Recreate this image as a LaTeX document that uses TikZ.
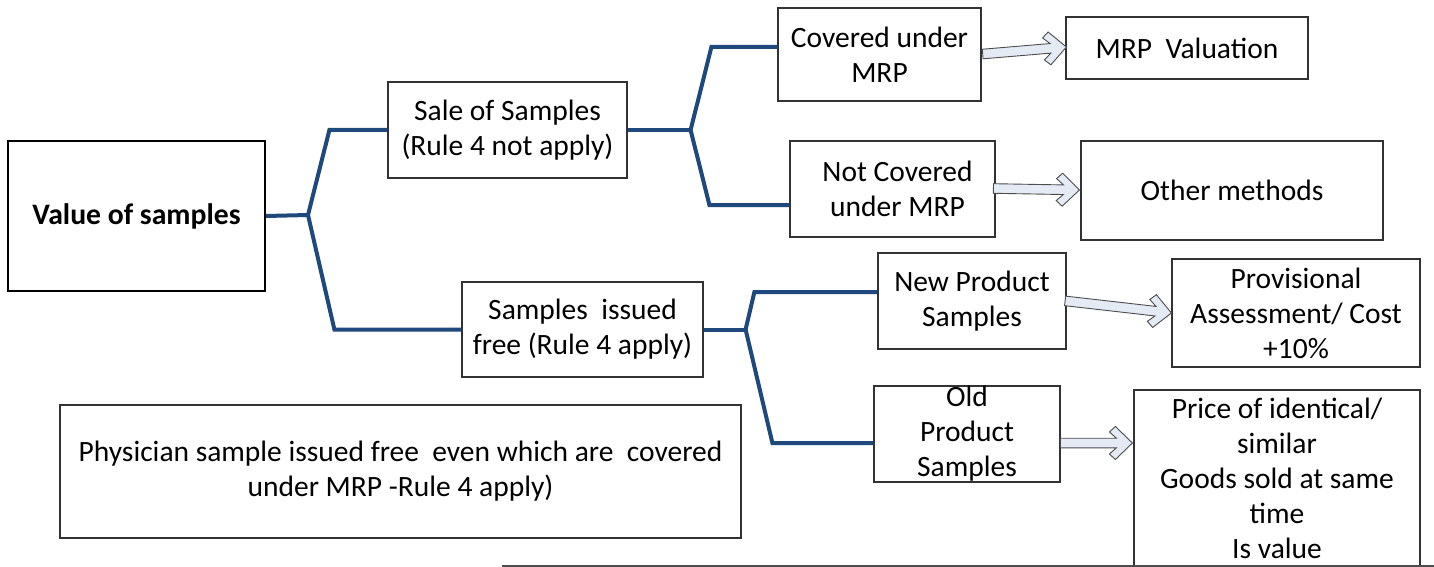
\documentclass[tikz,border=0pt]{standalone}
\usepackage{fontspec}
\setmainfont{Carlito}
\usetikzlibrary{calc}
\definecolor{connblue}{RGB}{31,73,125}
\definecolor{arrfill}{RGB}{228,235,245}
\definecolor{boxline}{RGB}{50,50,50}
\tikzset{
  box/.style={draw=boxline, line width=1.2pt, rectangle, inner sep=0pt, align=center,
    font=\fontsize{29.5}{35}\selectfont},
  conn/.style={draw=connblue, line width=4pt, line join=miter},
  harrowst/.style={draw=black!70, line width=0.9pt, fill=arrfill, line join=miter},
  pics/harrow/.style={code={
    \draw[harrowst] (-#1,-4.8) -- (-16,-4.8) -- (-23,-11) -- (-17,-16.5) -- (0,0)
      -- (-17,16.5) -- (-23,11) -- (-16,4.8) -- (-#1,4.8) -- cycle;
  }}
}
\begin{document}
\begin{tikzpicture}[x=1pt,y=-1pt]
\useasboundingbox (0,0) rectangle (1434,567);
% nodes
\node[box, line width=2pt, draw=black, minimum width=257, minimum height=150,
  font=\fontsize{29.7}{35}\selectfont\bfseries] (value) at (136.5,216)
  {Value of samples};
\node[box, minimum width=239, minimum height=96] (sale) at (507.5,130)
  {Sale of Samples\\(Rule 4 not apply)};
\node[box, minimum width=241, minimum height=95] (free) at (582.5,329.5)
  {Samples\ \ issued\\free (Rule 4 apply)};
\node[box, minimum width=203, minimum height=93] (cov) at (879.5,54.5)
  {Covered under\\MRP};
\node[box, minimum width=205, minimum height=96] (notcov) at (892.5,189)
  {\hspace*{10pt}Not Covered\\\hspace*{10pt}under MRP};
\node[box, minimum width=188, minimum height=96] (newp) at (972,301)
  {New Product\\Samples};
\node[box, minimum width=186, minimum height=96] (old) at (967,434)
  {Old\\Product\\Samples};
\node[box, minimum width=242, minimum height=62] (mrp) at (1187,48)
  {MRP\ \ Valuation};
\node[box, minimum width=302, minimum height=99] (other) at (1232,190.5)
  {Other methods};
\node[box, minimum width=248, minimum height=108] (prov) at (1296,313)
  {Provisional\\Assessment/ Cost\\+10\%};
\node[box, minimum width=286, minimum height=176] (price) at (1277,478)
  {Price of identical/\\similar\\Goods sold at same\\time\\Is value};
\node[box, minimum width=681, minimum height=133] (phys) at (400.5,471.5)
  {Physician sample issued free\ \ even which are\ \ covered\\under MRP -Rule 4 apply)};
% bottom rule
\coordinate (rulel) at (502,566);
\coordinate (ruler) at (1434,566);
\draw[draw=black!70, line width=1.2pt] (rulel) -- (ruler);
% connectors
\coordinate (j1) at ($(value.east)+(42,-1)$);
\draw[conn] (value.east) -- (j1);
\draw[conn] (j1) -- ($(sale.west)+(-58,0)$) -- (sale.west);
\draw[conn] (j1) -- ($(free.west)+(-127,0)$) -- (free.west);
\coordinate (j2) at ($(sale.east)+(63,0)$);
\draw[conn] (sale.east) -- (j2);
\draw[conn] (j2) -- ($(cov.west)+(-66,-7.5)$) -- ($(cov.west)+(0,-7.5)$);
\draw[conn] (j2) -- ($(notcov.west)+(-80,16)$) -- ($(notcov.west)+(0,16)$);
\coordinate (j3) at ($(free.east)+(42,0)$);
\draw[conn] (free.east) -- (j3);
\draw[conn] (j3) -- ($(newp.west)+(-123,-9)$) -- ($(newp.west)+(0,-9)$);
\draw[conn] (j3) -- ($(old.west)+(-101,9)$) -- ($(old.west)+(0,9)$);
% hollow arrows
\pic[rotate=4.8] at ($(mrp.west)+(1,-1)$) {harrow=84};
\pic[rotate=-1] at ($(other.west)+(-1,-0.5)$) {harrow=86};
\pic[rotate=-6.5] at (prov.west) {harrow=107};
\pic at ($(price.west)+(-1,-35)$) {harrow=72};
\end{tikzpicture}
\end{document}
